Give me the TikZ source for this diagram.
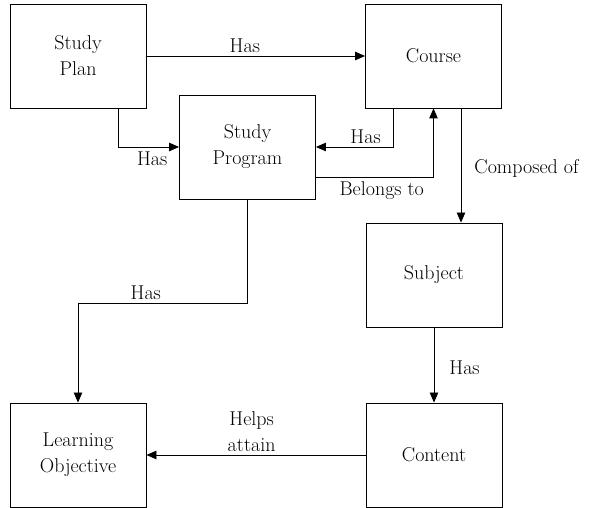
\documentclass[tikz,border=0pt]{standalone}
\usetikzlibrary{arrows.meta}

\def\boxfont{\fontsize{20}{26}\selectfont}

\begin{document}
\begin{tikzpicture}[x=1pt,y=1pt,
  box/.style={draw,line width=0.9pt,minimum width=136pt,minimum height=104pt,
    inner sep=0pt,align=center,font=\boxfont},
  link/.style={line width=0.9pt,-{Triangle[length=10pt,width=8.5pt]}},
  lab/.style={font=\boxfont,inner sep=2pt,align=center}]
\useasboundingbox (0,0) rectangle (589,508);
%boxes
\node[box] (plan) at (78,452) {Study\\Plan};
\node[box] (course) at (433.5,452) {Course};
\node[box] (program) at (247.5,361) {Study\\Program};
\node[box] (subject) at (434,233) {Subject};
\node[box] (content) at (434,53) {Content};
\node[box] (objective) at (78,53) {Learning\\Objective};
%top row
\draw[link] (plan.east) -- node[lab,pos=0.45,above=1pt] {Has} (course.west);
\draw[link] ([xshift=40pt]plan.south) |- node[lab,pos=0.78,below=2pt] {Has} (program.west);
%course and program
\draw[link] ([xshift=-40pt]course.south) |- node[lab,pos=0.68,above=1pt] {Has} (program.east);
\draw[link] ([yshift=-30pt]program.east) -| node[lab,pos=0.28,below=2pt] {Belongs to} (course.south);
%right column
\draw[link] ([xshift=27.5pt]course.south) -- node[lab,right=11pt,yshift=-3pt] {Composed of} ([xshift=27pt]subject.north);
\draw[link] (subject.south) -- node[lab,right=13pt,yshift=-3pt] {Has} (content.north);
%bottom
\draw[link] (program.south) -- ++(0,-104) -| node[lab,pos=0.3,above=1pt] {Has} (objective.north);
\draw[link] (content.west) -- node[lab,pos=0.52,above=1pt] {Helps\\attain} (objective.east);
\end{tikzpicture}
\end{document}
